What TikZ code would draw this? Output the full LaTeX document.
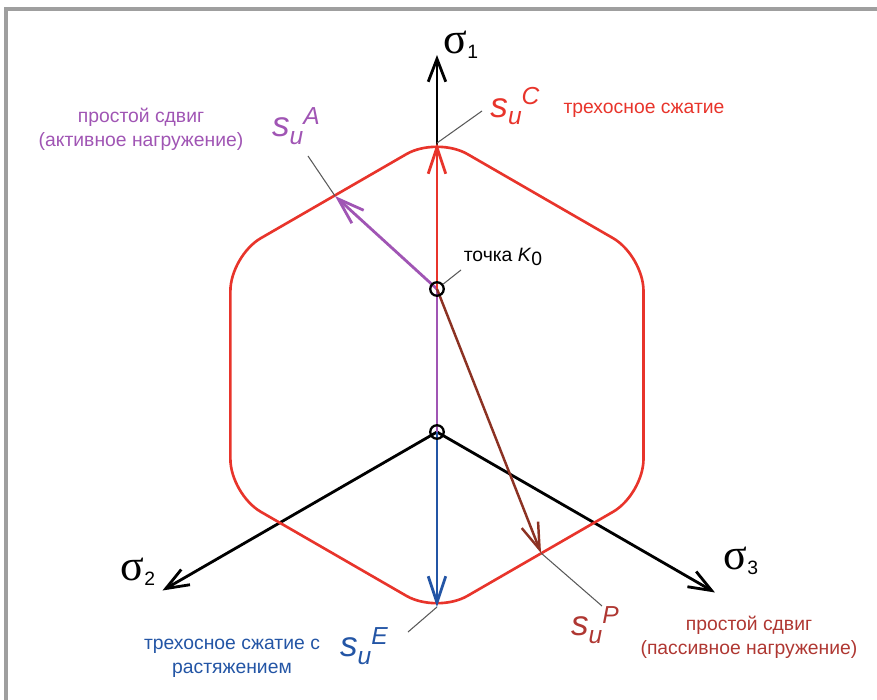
\documentclass[tikz,border=0pt]{standalone}
\usepackage{fontspec}
\setmainfont{Liberation Sans}
\newfontfamily\sigmafont{Liberation Serif}
\usetikzlibrary{arrows.meta,calc}

\definecolor{hexred}{RGB}{232,52,43}
\definecolor{actviolet}{RGB}{160,85,180}
\definecolor{extblue}{RGB}{35,85,165}
\definecolor{pasbrown}{RGB}{140,50,35}
\definecolor{pastext}{RGB}{175,55,50}

\newcommand{\sig}[1]{{\sigmafont\fontsize{25}{25}\selectfont σ}{\fontsize{11}{11}\selectfont\raisebox{-3pt}{#1}}}
\newcommand{\su}[1]{{\itshape\fontsize{20}{20}\selectfont s{\fontsize{14}{14}\selectfont\raisebox{-4pt}{u}\raisebox{7pt}{#1}}}}

\begin{document}
\begin{tikzpicture}[
    axis/.style={-{Straight Barb[length=13pt,width=10pt]}, line width=1.6pt, black},
    vec/.style={-{Straight Barb[length=15pt,width=10pt]}, line width=1.6pt},
    hexa/.style={hexred, line width=1.5pt, rounded corners=20pt},
    lead/.style={gray!70!black, line width=0.6pt},
    pt/.style={draw, circle, line width=1.3pt, minimum size=0.27cm, inner sep=0pt},
    lab/.style={font=\fontsize{11}{13.5}\selectfont, align=center},
    frame/.style={draw=gray!75, line width=1.8pt}
]
\useasboundingbox (-8.74,-5.36) rectangle (8.80,8.64);
\draw[frame] (-8.62,-6) -- (-8.62,8.46) -- (9.5,8.46);
% ---------------- points and axes ----------------
\coordinate (O) at (0,0);
\coordinate (K0) at (0,2.86);
\coordinate (hc) at (0,1.14);
\coordinate (a1) at (0,7.54);
\coordinate (a2) at (210:6.34);
\coordinate (a3) at (-30:6.42);
\draw[axis] (O) -- (a1);
\draw[axis] (O) -- (a2);
\draw[axis] (O) -- (a3);
\node (s1) at (0.48,7.74) {\sig{1}};
\node (s2) at (-5.98,-2.8) {\sig{2}};
\node (s3) at (6.08,-2.58) {\sig{3}};
% ---------------- limit hexagon ----------------
\draw[hexa] ($(hc)+(0:4.13)$) -- ++(90:2.385) -- ++(150:4.77) -- ++(210:4.77)
    -- ++(270:4.77) -- ++(330:4.77) -- ++(30:4.77) -- cycle;
\coordinate (C) at (0,5.78);
\coordinate (E) at (0,-3.5);
\coordinate (A) at (-2.04,4.72);
\coordinate (P) at (2.08,-2.42);
% ---------------- loading paths ----------------
\draw[actviolet, line width=1.6pt] (O) -- (K0);
\draw[vec, actviolet] (K0) -- (A);
\draw[vec, hexred] (K0) -- (C);
\draw[vec, extblue] (O) -- (E);
\draw[vec, pasbrown, line width=1.4pt] (K0) -- (P);
\node[pt] (o) at (O) {};
\node[pt] (k) at (K0) {};
% ---------------- labels ----------------
\coordinate (cl) at (0.9,6.42);
\coordinate (al) at (-2.58,5.52);
\coordinate (kl) at (0.48,3.24);
\coordinate (el) at (-0.58,-4.0);
\coordinate (pl) at (3.3,-3.48);
\draw[lead] (C) -- (cl);
\draw[lead] (A) -- (al);
\draw[lead] (k) -- (kl);
\draw[lead] (E) -- (el);
\draw[lead] (P) -- (pl);
\node[hexred] (suC) at (1.56,6.52) {\su{C}};
\node[lab, hexred] (tc) at (4.14,6.44) {трехосное сжатие};
\node[actviolet] (suA) at (-2.82,6.12) {\su{A}};
\node[lab, actviolet] (ta) at (-5.92,6.06) {простой сдвиг\\(активное нагружение)};
\node[lab] (tk) at (1.32,3.5) {точка \textit{K}\raisebox{-2pt}{0}};
\node[extblue] (suE) at (-1.46,-4.28) {\su{E}};
\node[lab, extblue] (te) at (-4.1,-4.52) {трехосное сжатие с\\растяжением};
\node[pastext] (suP) at (3.16,-3.86) {\su{P}};
\node[lab, pastext] (tp) at (6.24,-4.1) {простой сдвиг\\(пассивное нагружение)};
\end{tikzpicture}
\end{document}
